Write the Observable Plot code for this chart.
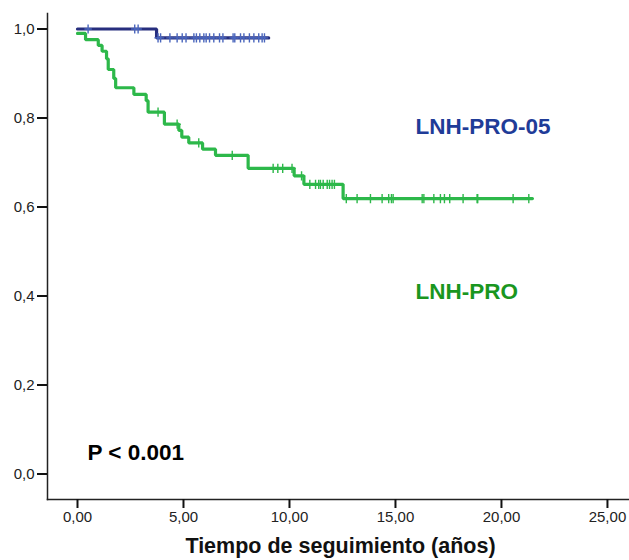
<!DOCTYPE html>
<html><head><meta charset="utf-8">
<script src="https://cdn.jsdelivr.net/npm/d3@7"></script>
<script src="https://cdn.jsdelivr.net/npm/@observablehq/plot@0.6"></script>
<style>body{margin:0;background:#fff}</style>
</head><body><div id="chart"></div>
<script>
// LNH-PRO (green) step function: time of each step and survival after it
const proTimes = [0, 0.38, 0.98, 1.16, 1.37, 1.45, 1.71, 1.80, 2.66, 3.24, 3.33, 4.10, 4.78, 4.92, 5.25, 5.90, 6.51, 8.05, 10.22, 10.68, 12.53];
const proSurv  = [0.990, 0.976, 0.963, 0.950, 0.933, 0.909, 0.889, 0.868, 0.853, 0.839, 0.813, 0.786, 0.772, 0.757, 0.744, 0.730, 0.716, 0.687, 0.670, 0.651, 0.619];
const proEnd = 21.46;
const proCensored = [3.80, 4.70, 5.72, 7.30, 9.23, 9.45, 9.68, 10.12, 10.57, 10.96, 11.23, 11.38, 11.46, 11.59, 11.78, 11.89, 12.01, 12.12, 12.68, 13.19, 13.82, 14.37, 14.68, 14.81, 14.89, 16.26, 16.34, 16.81, 17.12, 17.31, 17.56, 18.19, 18.85, 18.88, 20.55, 21.29];

// LNH-PRO-05 (blue)
const pro05Times = [0, 3.73];
const pro05Surv  = [1.0, 0.980];
const pro05End = 9.02;
const pro05Censored = [0.50, 2.70, 2.86, 3.80, 3.92, 4.36, 4.70, 4.94, 5.12, 5.49, 5.61, 5.77, 5.96, 6.07, 6.23, 6.43, 6.70, 6.86, 7.34, 7.42, 7.69, 7.85, 8.11, 8.32, 8.55, 8.71, 8.82];

const xTicks = [0, 5, 10, 15, 20, 25];
const yTicks = [0, 0.2, 0.4, 0.6, 0.8, 1.0];
const xTitle = "Tiempo de seguimiento (años)";
const labels = [
  {t: 15.94, s: 0.764, text: "LNH-PRO-05", color: "#1f3c98"},
  {t: 15.94, s: 0.394, text: "LNH-PRO", color: "#1a961f"},
  {t: 0.47, s: 0.032, text: "P < 0.001", color: "#000"}
];

function curve(times, surv, end) {
  const pts = times.map((t, i) => ({t, s: surv[i]}));
  pts.push({t: end, s: surv[surv.length - 1]});
  return pts;
}
function survAt(times, surv, t) {
  let s = surv[0];
  for (let i = 0; i < times.length; i++) if (times[i] <= t) s = surv[i];
  return s;
}
const proCurve = curve(proTimes, proSurv, proEnd);
const pro05Curve = curve(pro05Times, pro05Surv, pro05End);
const proMarks = proCensored.map(t => ({t, s: survAt(proTimes, proSurv, t)}));
const pro05Marks = pro05Censored.map(t => ({t, s: survAt(pro05Times, pro05Surv, t)}));

const plus = {
  draw(ctx, size) {
    const r = Math.sqrt(size / Math.PI);
    ctx.moveTo(0, -r); ctx.lineTo(0, r);
    ctx.moveTo(-r * 0.8, 0); ctx.lineTo(r * 0.8, 0);
  }
};

const green = "#2db84a";
const navy = "#272e7e";
const blueMark = "#4a66bd";
const font = "'Liberation Sans', Arial, sans-serif";

const chart = Plot.plot({
  width: 629,
  height: 560,
  marginLeft: 47,
  marginRight: 0,
  marginTop: 13,
  marginBottom: 61,
  style: {fontFamily: font, fontSize: "15px", color: "#222", background: "#fff"},
  x: {domain: [-1.415, 26.04]},
  y: {domain: [-0.0573, 1.0348]},
  marks: [
    Plot.frame({anchor: "left", stroke: "#222", strokeWidth: 1.5}),
    Plot.frame({anchor: "bottom", stroke: "#222", strokeWidth: 1.5}),
    Plot.axisX(xTicks, {tickSize: 9, tickPadding: 3, strokeWidth: 2, stroke: "#111", fill: "#222", label: null,
      tickFormat: d => d.toFixed(2).replace(".", ","), fontSize: 15}),
    Plot.axisY(yTicks, {tickSize: 10, tickPadding: 3, strokeWidth: 2, stroke: "#111", fill: "#222", label: null,
      tickFormat: d => d.toFixed(1).replace(".", ","), fontSize: 15}),
    Plot.line(proCurve, {x: "t", y: "s", curve: "step-after", stroke: green, strokeWidth: 3.2, strokeLinejoin: "miter"}),
    Plot.dot(proMarks, {x: "t", y: "s", symbol: plus, r: 4.6, stroke: green, strokeWidth: 1.4, fill: "none"}),
    Plot.line(pro05Curve, {x: "t", y: "s", curve: "step-after", stroke: navy, strokeWidth: 3.2, strokeLinejoin: "miter"}),
    Plot.dot(pro05Marks, {x: "t", y: "s", symbol: plus, r: 4.6, stroke: blueMark, strokeWidth: 1.4, fill: "none"}),
    Plot.text(labels, {x: "t", y: "s", text: "text", fill: "color", textAnchor: "start", lineAnchor: "bottom",
      fontSize: 22.5, fontWeight: "bold"}),
    Plot.text([xTitle], {frameAnchor: "bottom", text: d => d, dy: 53, dx: 2, lineAnchor: "bottom",
      fontSize: 21.5, fontWeight: "bold", fill: "#111"})
  ]
});
document.getElementById("chart").appendChild(chart);
</script>
</body></html>
